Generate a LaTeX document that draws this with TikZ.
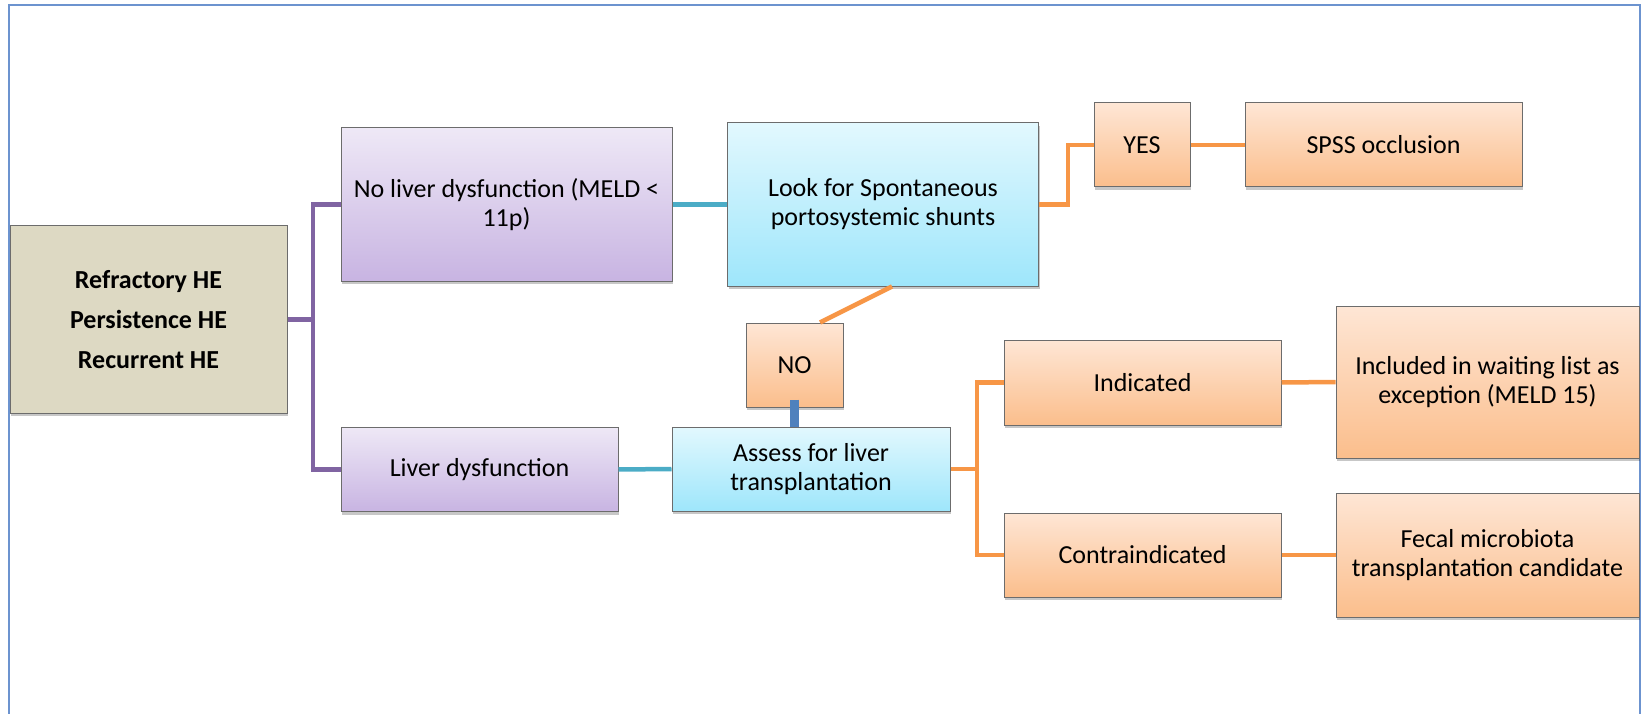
\documentclass[tikz,border=0pt]{standalone}
\usepackage{fontspec}
\setmainfont{Carlito}
\usetikzlibrary{shadows}

\definecolor{tanfill}{HTML}{DDD9C3}
\definecolor{purpletop}{HTML}{EEE8F6}
\definecolor{purplebot}{HTML}{C8B4E2}
\definecolor{cyantop}{HTML}{E2F8FE}
\definecolor{cyanbot}{HTML}{9EE6FB}
\definecolor{orangetop}{HTML}{FEE6D5}
\definecolor{orangebot}{HTML}{FBBE8C}
\definecolor{purpleline}{HTML}{8064A2}
\definecolor{cyanline}{HTML}{4BACC6}
\definecolor{orangeline}{HTML}{F79646}
\definecolor{blueline}{HTML}{4F81BD}
\definecolor{framecol}{HTML}{6C93CF}

\tikzset{
  box/.style={draw=gray!85!black, line width=1pt, align=center, inner sep=0pt,
    drop shadow={shadow xshift=1pt, shadow yshift=-3pt, opacity=.22, fill=black}},
  tanbox/.style={box, fill=tanfill},
  purplebox/.style={box, top color=purpletop, bottom color=purplebot},
  cyanbox/.style={box, top color=cyantop, bottom color=cyanbot},
  orangebox/.style={box, top color=orangetop, bottom color=orangebot},
  link/.style={line width=4.5pt}
}

\begin{document}
\begin{tikzpicture}[x=1pt,y=-1pt, every node/.style={font=\fontsize{26}{29}\selectfont}]

\useasboundingbox (0,0) rectangle (1641,714);

% Outer frame
\draw[framecol, line width=2pt] (9,714) -- (9,5) -- (1640,5) -- (1640,714);

% Starting box
\node[tanbox, minimum width=277, minimum height=187] (refr) at (148.5,319.5)
  {\textbf{Refractory HE}\\[11pt]\textbf{Persistence HE}\\[11pt]\textbf{Recurrent HE}};

% Liver function
\node[purplebox, minimum width=331, minimum height=153] (noliver) at (506.5,204.5)
  {No liver dysfunction (MELD <\\11p)};
\node[purplebox, minimum width=277, minimum height=84] (liver) at (479.5,469.5)
  {Liver dysfunction};

% Work-up
\node[cyanbox, minimum width=311, minimum height=163] (look) at (883,204.5)
  {Look for Spontaneous\\portosystemic shunts};
\node[cyanbox, minimum width=278, minimum height=84] (assess) at (811,469)
  {Assess for liver\\transplantation};

% Shunt answers
\node[orangebox, minimum width=96, minimum height=84] (yes) at (1142,145) {YES};
\node[orangebox, minimum width=277, minimum height=84] (spss) at (1383.5,145) {SPSS occlusion};
\node[orangebox, minimum width=97, minimum height=84] (no) at (794.5,365) {NO};

% Transplant answers
\node[orangebox, minimum width=277, minimum height=85] (indic) at (1142.5,382.5) {Indicated};
\node[orangebox, minimum width=277, minimum height=84] (contra) at (1142.5,555) {Contraindicated};
\node[orangebox, minimum width=303, minimum height=152] (incl) at (1487.5,382)
  {Included in waiting list as\\exception (MELD 15)};
\node[orangebox, minimum width=303, minimum height=124] (fecal) at (1487.5,555)
  {Fecal microbiota\\transplantation candidate};

% Purple branches
\draw[link, purpleline] (refr.east) -- ++(25.5,0) |- (noliver.west);
\draw[link, purpleline] (refr.east) -- ++(25.5,0) |- (liver.west);

% Cyan links
\draw[link, cyanline] (noliver.east) -- (look.west);
\draw[link, cyanline] (liver.east) -- (assess.west);

% Orange branches
\draw[link, orangeline] (look.east) -- ++(29,0) |- (yes.west);
\draw[link, orangeline] (yes.east) -- (spss.west);
\draw[link, orangeline] ([xshift=9pt]look.south) -- ([xshift=25.5pt]no.north);
\draw[link, orangeline] (assess.east) -- ++(26.5,0) |- (indic.west);
\draw[link, orangeline] (assess.east) -- ++(26.5,0) |- (contra.west);
\draw[link, orangeline] (indic.east) -- (incl.west);
\draw[link, orangeline] (contra.east) -- (fecal.west);

% NO back to assessment
\draw[blueline, line width=9pt] ([yshift=8pt]no.south) -- (no.south |- assess.north);

\end{tikzpicture}
\end{document}
